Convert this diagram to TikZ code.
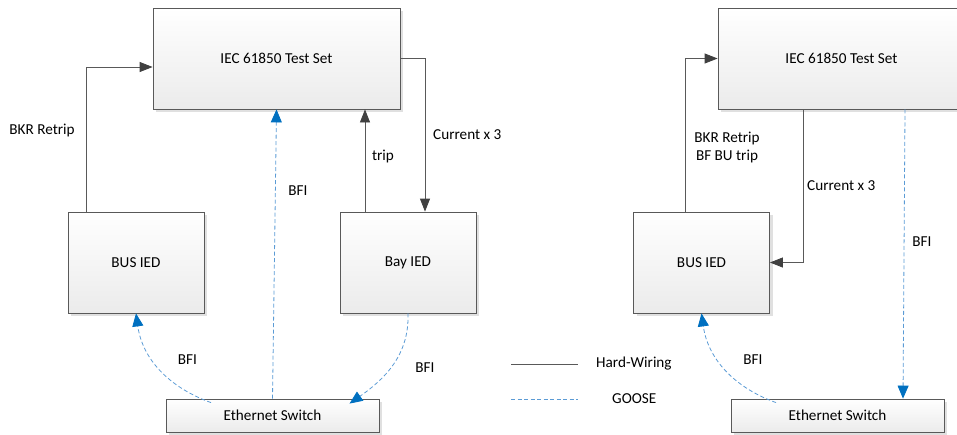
\documentclass[tikz,border=0pt]{standalone}
\usepackage{fontspec}
\setmainfont{Carlito}
\usetikzlibrary{arrows.meta,shadows,calc}

\definecolor{boxline}{HTML}{595959}
\definecolor{boxbottom}{HTML}{EBEBEB}
\definecolor{wire}{HTML}{595959}
\definecolor{wiretip}{HTML}{404040}
\definecolor{gooseline}{HTML}{5B9BD5}
\definecolor{goosetip}{HTML}{0070C0}

\tikzset{
  unitbox/.style={draw=boxline, line width=0.8pt, top color=white, bottom color=boxbottom,
    inner sep=0pt, minimum height=101pt,
    general shadow={fill=black!12, shadow xshift=3pt, shadow yshift=-3pt}},
  switchbox/.style={unitbox, minimum height=33pt, minimum width=213pt},
  hw/.style={draw=wire, line width=0.8pt, -{Triangle[length=13pt,width=10pt,color=wiretip]}},
  goose/.style={draw=gooseline, line width=0.8pt, dash pattern=on 4pt off 2.5pt,
    -{Triangle[length=13pt,width=11pt,color=goosetip]}},
  lbl/.style={inner sep=0pt, font=\fontsize{15.2}{18}\selectfont},
}

\begin{document}
\begin{tikzpicture}[x=1pt,y=-1pt,font=\fontsize{15.2}{18}\selectfont]
\useasboundingbox (0,0) rectangle (957,434);
\clip (0,0) rectangle (957,434);

% ---- left arrangement ----
\node[unitbox, minimum width=247pt] (ts1) at (276.5,58.5) {IEC 61850 Test Set};
\node[unitbox, minimum width=136pt] (bus1) at (136,262.5) {BUS IED};
\node[unitbox, minimum width=136pt] (bay1) at (408,262.5) {Bay IED};
\node[switchbox] (sw1) at (272.5,415.5) {Ethernet Switch};

\draw[hw] ([xshift=-50pt]bus1.north) |- ([yshift=-8.5pt]ts1.west);
\draw[hw] ([xshift=-43pt]bay1.north) -- ([xshift=-43pt]bay1.north |- ts1.south);
\draw[hw] (ts1.east) -| ([xshift=17pt]bay1.north);
\draw[goose] (sw1.north) -- (ts1.south);
\draw[goose] ([xshift=-61.5pt,yshift=-4pt]sw1.north) to[out=160,in=-82] (bus1.south);
\draw[goose] (bay1.south) to[out=-88,in=35] ([xshift=77pt,yshift=-5pt]sw1.north);

\node[lbl] (l1) at (42,130) {BKR Retrip};
\node[lbl] (l2) at (298,191) {BFI};
\node[lbl] (l3) at (383,156) {trip};
\node[lbl, anchor=west] (l4) at (433,135) {Current x 3};
\node[lbl] (l5) at (187.5,360) {BFI};
\node[lbl] (l6) at (425,368) {BFI};

% ---- legend ----
\coordinate (hwa) at (511,364);
\coordinate (hwb) at (578,364);
\coordinate (gsa) at (511,399);
\coordinate (gsb) at (578,399);
\draw[draw=wire, line width=0.8pt] (hwa) -- (hwb);
\draw[draw=gooseline, line width=0.8pt, dash pattern=on 4pt off 2.5pt] (gsa) -- (gsb);
\node[lbl, anchor=west] (lg1) at (596,364) {Hard-Wiring};
\node[lbl, anchor=west] (lg2) at (612,399) {GOOSE};

% ---- right arrangement ----
\node[unitbox, minimum width=247pt] (ts2) at (841.5,58.5) {IEC 61850 Test Set};
\node[unitbox, minimum width=136pt] (bus2) at (701.5,262.5) {BUS IED};
\node[switchbox] (sw2) at (837.5,415.5) {Ethernet Switch};

\draw[hw] ([xshift=-16.5pt]bus2.north) |- (ts2.west);
\draw[hw] ([xshift=-38.5pt]ts2.south) |- (bus2.east);
\draw[goose] ([xshift=63.5pt]ts2.south) -- ([xshift=65.5pt]sw2.north);
\draw[goose] ([xshift=-61.5pt,yshift=-4pt]sw2.north) to[out=160,in=-82] (bus2.south);

\node[lbl, align=center] (r1) at (727,147) {BKR Retrip\\BF BU trip};
\node[lbl, anchor=west] (r2) at (807,186) {Current x 3};
\node[lbl] (r3) at (922,242) {BFI};
\node[lbl] (r4) at (753,360) {BFI};
\end{tikzpicture}
\end{document}
